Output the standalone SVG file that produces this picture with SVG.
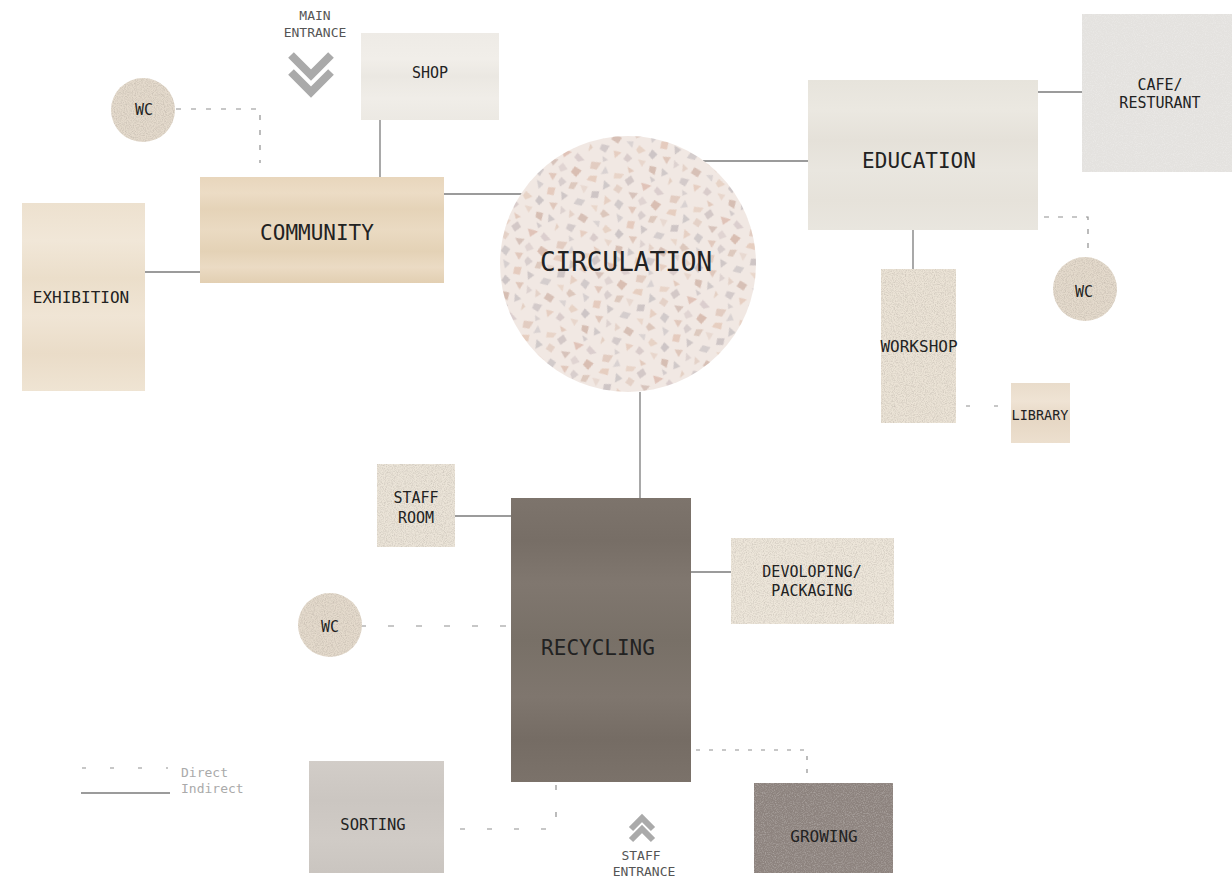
<svg xmlns="http://www.w3.org/2000/svg" width="1232" height="884" viewBox="0 0 1232 884">
<style>
  .lbl { font-family: "DejaVu Sans Mono", "Liberation Mono", monospace; fill: #222; text-anchor: middle; }
  .ent { font-family: "DejaVu Sans Mono", "Liberation Mono", monospace; fill: #555; text-anchor: middle; font-size: 13px; }
  .leg { font-family: "DejaVu Sans Mono", "Liberation Mono", monospace; fill: #aaa; font-size: 13px; }
  .solid { fill: none; stroke: #7a7a7a; stroke-width: 1.3; }
  .dash { fill: none; stroke: #8f8f8f; stroke-width: 1.2; }
  .chev { fill: none; stroke: #aaaaaa; stroke-linejoin: miter; stroke-linecap: butt; }
</style>
<defs>
  <filter id="grain" x="0" y="0" width="1" height="1" color-interpolation-filters="sRGB">
    <feTurbulence type="fractalNoise" baseFrequency="0.9" numOctaves="2" seed="4" result="t"/>
    <feColorMatrix in="t" type="matrix" values="0 0 0 0 0.35  0 0 0 0 0.32  0 0 0 0 0.3  0.4 0 0 0 -0.16" result="m"/>
    <feComposite in="m" in2="SourceGraphic" operator="in" result="s"/>
    <feMerge><feMergeNode in="SourceGraphic"/><feMergeNode in="s"/></feMerge>
  </filter>
  <filter id="grainLight" x="0" y="0" width="1" height="1" color-interpolation-filters="sRGB">
    <feTurbulence type="fractalNoise" baseFrequency="0.9" numOctaves="2" seed="7" result="t"/>
    <feColorMatrix in="t" type="matrix" values="0 0 0 0 1  0 0 0 0 1  0 0 0 0 1  0.6 0 0 0 -0.25" result="m"/>
    <feComposite in="m" in2="SourceGraphic" operator="in" result="s"/>
    <feMerge><feMergeNode in="SourceGraphic"/><feMergeNode in="s"/></feMerge>
  </filter>
  <linearGradient id="gCommunity" x1="0" y1="0" x2="0" y2="1">
    <stop offset="0" stop-color="#e8d6bc"/><stop offset="0.15" stop-color="#ecdcc5"/><stop offset="0.3" stop-color="#e5d3b8"/>
    <stop offset="0.5" stop-color="#eadac2"/><stop offset="0.7" stop-color="#e4d2b6"/><stop offset="0.85" stop-color="#ebdbc4"/><stop offset="1" stop-color="#e2cfb2"/>
  </linearGradient>
  <linearGradient id="gExhibition" x1="0" y1="0" x2="0" y2="1">
    <stop offset="0" stop-color="#ede1cf"/><stop offset="0.2" stop-color="#f1e7d8"/><stop offset="0.4" stop-color="#ebdeca"/>
    <stop offset="0.6" stop-color="#f0e5d5"/><stop offset="0.8" stop-color="#eadcc8"/><stop offset="1" stop-color="#efe4d3"/>
  </linearGradient>
  <linearGradient id="gShop" x1="0" y1="0" x2="0" y2="1">
    <stop offset="0" stop-color="#eeebe6"/><stop offset="0.3" stop-color="#f1eee9"/><stop offset="0.5" stop-color="#ebe8e2"/>
    <stop offset="0.75" stop-color="#f0ede8"/><stop offset="1" stop-color="#ece9e3"/>
  </linearGradient>
  <linearGradient id="gEducation" x1="0" y1="0" x2="0" y2="1">
    <stop offset="0" stop-color="#e7e4dc"/><stop offset="0.2" stop-color="#ebe8e1"/><stop offset="0.4" stop-color="#e5e1d9"/>
    <stop offset="0.6" stop-color="#e9e6df"/><stop offset="0.8" stop-color="#e6e2da"/><stop offset="1" stop-color="#e9e6df"/>
  </linearGradient>
  <linearGradient id="gLibrary" x1="0" y1="0" x2="0" y2="1">
    <stop offset="0" stop-color="#e9dccb"/><stop offset="0.3" stop-color="#efe3d4"/><stop offset="0.6" stop-color="#e6d7c4"/><stop offset="1" stop-color="#ecdfce"/>
  </linearGradient>
  <linearGradient id="gRecycling" x1="0" y1="0" x2="0" y2="1">
    <stop offset="0" stop-color="#7d746c"/><stop offset="0.15" stop-color="#776e66"/><stop offset="0.3" stop-color="#80776f"/>
    <stop offset="0.5" stop-color="#787067"/><stop offset="0.7" stop-color="#7f766e"/><stop offset="0.85" stop-color="#756c64"/><stop offset="1" stop-color="#7b726a"/>
  </linearGradient>
  <linearGradient id="gSorting" x1="0" y1="0" x2="0" y2="1">
    <stop offset="0" stop-color="#d2cdc8"/><stop offset="0.35" stop-color="#cbc6c1"/><stop offset="0.7" stop-color="#d0cbc6"/><stop offset="1" stop-color="#cac5c0"/>
  </linearGradient>
  <pattern id="terrazzo" width="64" height="64" patternUnits="userSpaceOnUse" patternTransform="rotate(23) scale(1.35)">
    <rect width="64" height="64" fill="#f1e8e3"/>
    <g opacity="0.6">
      <polygon points="2,3 9,1 8,7 3,8" fill="#d8b9a9"/>
      <polygon points="13,2 17,6 12,9" fill="#c9c3c6"/>
      <polygon points="21,4 28,2 27,6 22,8" fill="#e3c7b6"/>
      <polygon points="33,1 37,4 34,9 30,6" fill="#bfb2b4"/>
      <polygon points="42,3 50,2 46,8" fill="#d6a99a"/>
      <polygon points="54,1 61,4 57,7 53,5" fill="#cdbdbf"/>
      <polygon points="5,13 10,11 11,16 4,17" fill="#e0bca8"/>
      <polygon points="16,12 22,14 18,19" fill="#b9b4b8"/>
      <polygon points="26,11 31,12 30,17 25,16" fill="#dcc2b4"/>
      <polygon points="36,13 43,11 41,17" fill="#c6aaa0"/>
      <polygon points="47,12 52,15 48,19 45,16" fill="#d5c7c6"/>
      <polygon points="56,11 62,12 60,18 55,16" fill="#caa291"/>
      <polygon points="1,22 7,21 6,27" fill="#e2cfc5"/>
      <polygon points="11,23 16,21 17,26 12,28" fill="#b7adb1"/>
      <polygon points="21,22 27,24 23,29" fill="#e0c0ae"/>
      <polygon points="31,21 36,22 35,28 30,26" fill="#bcb5b9"/>
      <polygon points="40,23 46,21 45,27" fill="#d7b2a2"/>
      <polygon points="50,22 55,24 52,29 49,26" fill="#c8bcbe"/>
      <polygon points="58,23 63,21 62,27 58,28" fill="#d1b4a4"/>
      <polygon points="3,32 9,31 8,36 2,37" fill="#c2bbbe"/>
      <polygon points="14,33 19,31 20,36" fill="#e5cbbb"/>
      <polygon points="24,32 30,34 26,38 23,36" fill="#cfb0a2"/>
      <polygon points="34,31 40,32 38,37" fill="#c4bec2"/>
      <polygon points="44,33 49,31 50,37 45,38" fill="#ddb8a5"/>
      <polygon points="54,32 60,33 57,38" fill="#b9b1b4"/>
      <polygon points="1,42 6,44 3,48" fill="#dcc3b6"/>
      <polygon points="10,41 16,42 15,47 9,46" fill="#c7a597"/>
      <polygon points="20,43 25,41 26,46" fill="#cbc4c7"/>
      <polygon points="30,42 36,44 32,48 29,46" fill="#e1c4b2"/>
      <polygon points="40,41 45,43 43,48 39,46" fill="#b5aeb2"/>
      <polygon points="49,43 55,41 54,47" fill="#d4b09f"/>
      <polygon points="58,42 63,44 60,48" fill="#d0c3c3"/>
      <polygon points="4,52 10,51 9,57 4,56" fill="#bfb6b9"/>
      <polygon points="14,53 20,52 17,58" fill="#dfbdaa"/>
      <polygon points="24,51 29,53 27,57 23,56" fill="#c9b9ba"/>
      <polygon points="33,52 39,51 38,56" fill="#e3cabc"/>
      <polygon points="43,53 48,52 49,58 44,57" fill="#c5a293"/>
      <polygon points="52,51 58,53 54,57" fill="#bbb4b8"/>
      <polygon points="60,55 63,57 61,61" fill="#dcbfae"/>
      <polygon points="8,60 13,61 10,64" fill="#c8bfc1"/>
      <polygon points="28,60 34,61 31,64" fill="#d9b5a3"/>
      <polygon points="46,60 51,61 49,64" fill="#c0b8bb"/>
    </g>
  </pattern>
</defs>

<rect width="1232" height="884" fill="#ffffff"/>

<g id="connectors">
  <path class="solid" d="M380 120 V177"/>
  <path class="solid" d="M145 272 H200"/>
  <path class="solid" d="M444 194 H522"/>
  <path class="solid" d="M703 161 H808"/>
  <path class="solid" d="M1038 92 H1082"/>
  <path class="solid" d="M913 230 V269"/>
  <path class="solid" d="M640 392 V498"/>
  <path class="solid" d="M455 516 H511"/>
  <path class="solid" d="M691 572 H731"/>
  <path class="dash" d="M176 109 H260 V163" stroke-dasharray="5 10"/>
  <path class="dash" d="M1044 217 H1088 V248" stroke-dasharray="5 9"/>
  <path class="dash" d="M966 406 H998" stroke-dasharray="4 24"/>
  <path class="dash" d="M360 626 H508" stroke-dasharray="6 22"/>
  <path class="dash" d="M556 785 V829 H444" stroke-dasharray="5 22"/>
  <path class="dash" d="M696 750 H807 V773" stroke-dasharray="4 9"/>
</g>

<g id="main-entrance">
  <text class="ent" x="315" y="20">MAIN</text>
  <text class="ent" x="315" y="37">ENTRANCE</text>
  <polyline class="chev" points="291,55 311,75 331,55" stroke-width="8" stroke="#a6a6a6"/>
  <polyline class="chev" points="291,72 311,92 331,72" stroke-width="8" stroke="#b0b0b0"/>
</g>

<g id="shop">
  <rect x="361" y="33" width="138" height="87" fill="url(#gShop)"/>
  <text class="lbl" x="430" y="78" font-size="15">SHOP</text>
</g>

<g id="wc-top">
  <circle cx="143" cy="110" r="32" fill="#e4dacc" filter="url(#grain)"/>
  <text class="lbl" x="144" y="115" font-size="15">WC</text>
</g>

<g id="community">
  <rect x="200" y="177" width="244" height="106" fill="url(#gCommunity)"/>
  <text class="lbl" x="317" y="240" font-size="21">COMMUNITY</text>
</g>

<g id="exhibition">
  <rect x="22" y="203" width="123" height="188" fill="url(#gExhibition)"/>
  <text class="lbl" x="81" y="303" font-size="16">EXHIBITION</text>
</g>

<g id="circulation">
  <circle cx="628" cy="264" r="128" fill="url(#terrazzo)"/>
  <text class="lbl" x="626" y="271" font-size="26">CIRCULATION</text>
</g>

<g id="education">
  <rect x="808" y="80" width="230" height="150" fill="url(#gEducation)"/>
  <text class="lbl" x="919" y="168" font-size="21">EDUCATION</text>
</g>

<g id="cafe">
  <rect x="1082" y="14" width="150" height="158" fill="#e4e2df" filter="url(#grainLight)"/>
  <text class="lbl" x="1160" y="90" font-size="15">CAFE/</text>
  <text class="lbl" x="1160" y="108" font-size="15">RESTURANT</text>
</g>

<g id="wc-right">
  <circle cx="1085" cy="289" r="32" fill="#e4dacc" filter="url(#grain)"/>
  <text class="lbl" x="1084" y="297" font-size="15">WC</text>
</g>

<g id="workshop">
  <rect x="881" y="269" width="75" height="154" fill="#ebe3d6" filter="url(#grain)"/>
  <text class="lbl" x="919" y="352" font-size="16">WORKSHOP</text>
</g>

<g id="library">
  <rect x="1011" y="383" width="59" height="60" fill="url(#gLibrary)"/>
  <text class="lbl" x="1040" y="420" font-size="13.5">LIBRARY</text>
</g>

<g id="staff-room">
  <rect x="377" y="464" width="78" height="83" fill="#ebe4d8" filter="url(#grain)"/>
  <text class="lbl" x="416" y="503" font-size="15">STAFF</text>
  <text class="lbl" x="416" y="523" font-size="15">ROOM</text>
</g>

<g id="recycling">
  <rect x="511" y="498" width="180" height="284" fill="url(#gRecycling)"/>
  <text class="lbl" x="598" y="655" font-size="21">RECYCLING</text>
</g>

<g id="devoloping">
  <rect x="731" y="538" width="163" height="86" fill="#ede6da" filter="url(#grain)"/>
  <text class="lbl" x="812" y="577" font-size="15">DEVOLOPING/</text>
  <text class="lbl" x="812" y="596" font-size="15">PACKAGING</text>
</g>

<g id="wc-bottom">
  <circle cx="330" cy="625" r="32" fill="#e4dacc" filter="url(#grain)"/>
  <text class="lbl" x="330" y="632" font-size="15">WC</text>
</g>

<g id="sorting">
  <rect x="309" y="761" width="135" height="112" fill="url(#gSorting)"/>
  <text class="lbl" x="373" y="830" font-size="15.5">SORTING</text>
</g>

<g id="growing">
  <rect x="754" y="783" width="139" height="90" fill="#8d837e" filter="url(#grainLight)"/>
  <text class="lbl" x="824" y="842" font-size="16">GROWING</text>
</g>

<g id="staff-entrance">
  <polyline class="chev" points="631,829 642,818 653,829" stroke-width="6" stroke="#a6a6a6"/>
  <polyline class="chev" points="631,840 642,829 653,840" stroke-width="6" stroke="#b0b0b0"/>
  <text class="ent" x="641" y="860">STAFF</text>
  <text class="ent" x="644" y="876">ENTRANCE</text>
</g>

<g id="legend">
  <path class="dash" d="M82 768 H168" stroke-dasharray="4 24" stroke="#aaa"/>
  <path class="solid" d="M81 793 H170" stroke="#999"/>
  <text class="leg" x="181" y="777">Direct</text>
  <text class="leg" x="181" y="793">Indirect</text>
</g>
</svg>
